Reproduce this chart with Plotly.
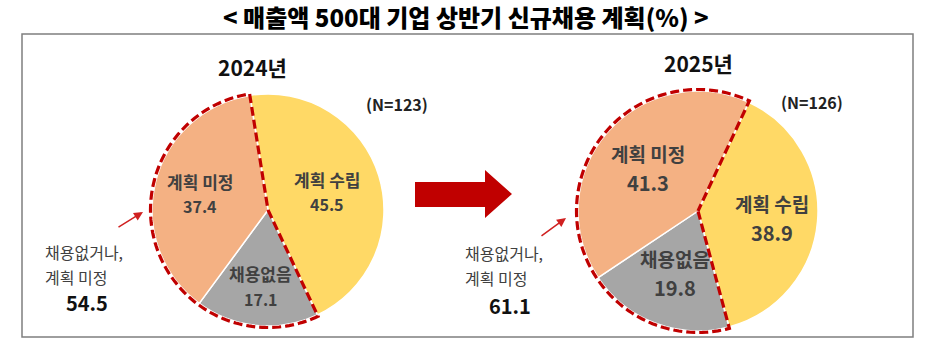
import numpy as np
import plotly.graph_objects as go

W, H = 929, 345

# ---- data ----
categories = ["계획 수립", "채용없음", "계획 미정"]
years = ["2024년", "2025년"]
values_2024 = [45.5, 17.1, 37.4]
values_2025 = [38.9, 19.8, 41.3]
sample_sizes = [123, 126]
combined_name = ["채용없거나,", "계획 미정"]
slice_colors = ["#FFD966", "#A6A6A6", "#F4B183"]

# ---- layout of each pie panel (pixels) ----
panels = [
    dict(values=values_2024, cx=268, cy=210, r=116, rotation=-9,
         label_frac=[0.53, 0.66, 0.60], line_gap=25, name_size=17, value_size=16,
         year_xy=(252, 67), n_xy=(397, 104),
         note_xy=(43, 252), note_val_xy=(87, 302),
         pointer_head=(143, 212), pointer_tail=(117, 228)),
    dict(values=values_2025, cx=698, cy=211, r=120, rotation=25,
         label_frac=[0.62, 0.55, 0.55], line_gap=29, name_size=19, value_size=20,
         year_xy=(698, 63), n_xy=(812, 102),
         note_xy=(463, 253), note_val_xy=(510, 305),
         pointer_head=(566, 218), pointer_tail=(540, 237)),
]

FONT = "Noto Sans CJK KR"
TXT = "#404040"
RED = "#C00000"


def px(x):
    return x / W


def py(y):
    return 1 - y / H


def polar(cx, cy, r, deg):
    t = np.radians(deg)
    return cx + r * np.sin(t), cy - r * np.cos(t)


fig = go.Figure()
annotations = []
shapes = []

for i, p in enumerate(panels):
    vals = p["values"]
    cx, cy, r = p["cx"], p["cy"], p["r"]
    fig.add_trace(go.Pie(
        values=vals, labels=categories, sort=False, direction="clockwise",
        rotation=p["rotation"], textinfo="none", hoverinfo="label+value",
        marker=dict(colors=slice_colors, line=dict(color="white", width=1.5)),
        domain=dict(x=[px(cx - r), px(cx + r)], y=[py(cy + r), py(cy - r)]),
        showlegend=False,
    ))

    # slice boundaries (degrees clockwise from 12 o'clock)
    bounds = p["rotation"] + 360 * np.concatenate([[0], np.cumsum(vals)]) / 100.0

    # in-slice labels
    for k, cat in enumerate(categories):
        mid = (bounds[k] + bounds[k + 1]) / 2
        lx, ly = polar(cx, cy, r * p["label_frac"][k], mid)
        g = p["line_gap"] / 2
        annotations.append(dict(x=px(lx), y=py(ly - g), text=f"<b>{cat}</b>",
                                font=dict(family=FONT, size=p["name_size"], color=TXT)))
        annotations.append(dict(x=px(lx), y=py(ly + g), text=f"<b>{vals[k]:.1f}</b>",
                                font=dict(family=FONT, size=p["value_size"], color=TXT)))

    # dashed outline around the "no hiring" + "undecided" share
    a0, a1 = bounds[1], bounds[3]
    arc = np.linspace(a0, a1, 120)
    ro = r + 1.5
    pts = [(cx, cy), polar(cx, cy, r, a0)]
    pts += [polar(cx, cy, ro, a) for a in arc]
    pts += [polar(cx, cy, r, a1), (cx, cy)]
    path = "M " + " L ".join(f"{px(x):.5f},{py(y):.5f}" for x, y in pts)
    shapes.append(dict(type="path", path=path, xref="paper", yref="paper", layer="above",
                       line=dict(color=RED, width=3.2, dash="9px,4px")))

    # year title and sample size
    annotations.append(dict(x=px(p["year_xy"][0]), y=py(p["year_xy"][1]), text=f"<b>{years[i]}</b>",
                            font=dict(family=FONT, size=21, color="#111111")))
    annotations.append(dict(x=px(p["n_xy"][0]), y=py(p["n_xy"][1]), text=f"<b>(N={sample_sizes[i]})</b>",
                            font=dict(family=FONT, size=16, color="#222222")))

    # combined share note with pointer
    combined = round(vals[1] + vals[2], 1)
    annotations.append(dict(x=px(p["note_xy"][0]), y=py(p["note_xy"][1]), xanchor="left",
                            text=combined_name[0], font=dict(family=FONT, size=16, color=TXT)))
    annotations.append(dict(x=px(p["note_xy"][0]), y=py(p["note_xy"][1] + 25), xanchor="left",
                            text=combined_name[1], font=dict(family=FONT, size=16, color=TXT)))
    annotations.append(dict(x=px(p["note_val_xy"][0]), y=py(p["note_val_xy"][1]),
                            text=f"<b>{combined:.1f}</b>",
                            font=dict(family=FONT, size=20, color="#111111")))
    hx, hy = p["pointer_head"]
    tx, ty = p["pointer_tail"]
    annotations.append(dict(x=px(hx), y=py(hy), text="", showarrow=True,
                            ax=tx - hx, ay=ty - hy, arrowhead=2, arrowsize=1.2,
                            arrowwidth=1.5, arrowcolor="#D02020", standoff=0))

# chart title
annotations.append(dict(x=px(466), y=py(16),
                        text="&lt; 매출액 500대 기업 상반기 신규채용 계획(%) &gt;",
                        font=dict(family=FONT, size=24, color="#000000", weight=900)))

for a in annotations:
    a.setdefault("xref", "paper")
    a.setdefault("yref", "paper")
    a.setdefault("showarrow", False)
    a.setdefault("xanchor", "center")
    a.setdefault("yanchor", "middle")

# panel frame
shapes.append(dict(type="rect", xref="paper", yref="paper", layer="below",
                   x0=px(22), x1=px(913), y0=py(337), y1=py(34),
                   line=dict(color="#7F7F7F", width=1.5)))

# block arrow between the two years
arrow_pts = [(415, 182), (485, 182), (485, 170), (512, 194), (485, 218), (485, 207), (415, 207)]
shapes.append(dict(type="path", xref="paper", yref="paper", layer="above",
                   path="M " + " L ".join(f"{px(x):.5f},{py(y):.5f}" for x, y in arrow_pts) + " Z",
                   fillcolor=RED, line=dict(width=0)))

fig.update_layout(
    width=W, height=H, margin=dict(l=0, r=0, t=0, b=0),
    paper_bgcolor="white", plot_bgcolor="white",
    annotations=annotations, shapes=shapes,
)

fig.write_html("out.html")
